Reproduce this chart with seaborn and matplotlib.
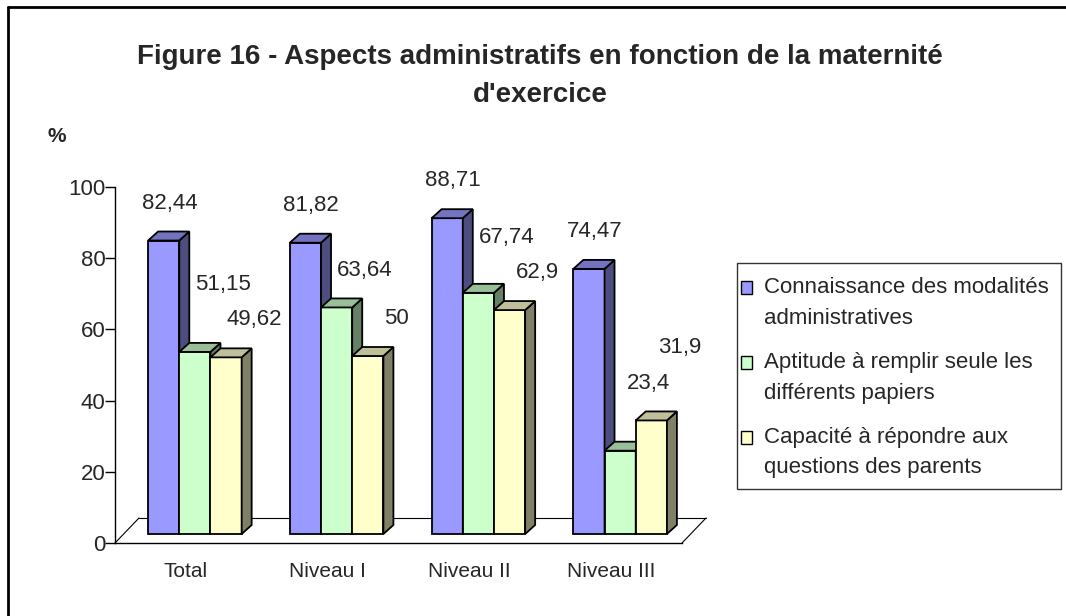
import numpy as np
import pandas as pd
import seaborn as sns
import matplotlib.pyplot as plt
from matplotlib.patches import Polygon, Rectangle
from matplotlib.lines import Line2D
from matplotlib.transforms import ScaledTranslation
from matplotlib.legend_handler import HandlerPatch

# Données
categories = ['Total', 'Niveau I', 'Niveau II', 'Niveau III']
series = ['Connaissance des modalités\nadministratives',
          'Aptitude à remplir seule les\ndifférents papiers',
          'Capacité à répondre aux\nquestions des parents']
connaissance = [82.44, 81.82, 88.71, 74.47]
aptitude = [51.15, 63.64, 67.74, 23.4]
capacite = [49.62, 50, 62.9, 31.9]
yticks = [0, 20, 40, 60, 80, 100]

front_colors = ['#9999FF', '#CCFFCC', '#FFFFCC']
side_colors = ['#4D4D80', '#668066', '#808066']
top_colors = ['#7373BF', '#99BF99', '#BFBF99']
label_dx = [0.04, 0.2, 0.2]   # décalage horizontal des étiquettes (style Excel)

df = pd.DataFrame({
    'cat': categories * 3,
    'serie': [s for s in series for _ in categories],
    'val': connaissance + aptitude + capacite,
})

sns.set_style('white')
plt.rcParams['font.family'] = ['Liberation Sans', 'DejaVu Sans']

W, H = 1066, 616
fig = plt.figure(figsize=(W / 100, H / 100), dpi=100)
ax = fig.add_axes([115 / W, 1 - 543 / H, 567 / W, 356 / H])

sns.barplot(data=df, x='cat', y='val', hue='serie', order=categories, hue_order=series,
            palette=front_colors, saturation=1, width=0.66, edgecolor='black',
            linewidth=1.3, legend=False, ax=ax)
ax.set_xlim(-0.5, 3.5)
ax.set_ylim(0, 100)

# pseudo 3D : décalage des barres et profondeur
px_x = 567 / 4     # pixels par catégorie
px_y = 356 / 100   # pixels par unité
shift = ScaledTranslation(9 / 100, 9 / 100, fig.dpi_scale_trans)
tr = ax.transData + shift
ddx, ddy = 10 / px_x, 9 / px_y

n_s = len(series)
heights = {}
label_pos = {}
for i, cont in enumerate(ax.containers):
    for j, bar in enumerate(cont):
        x, w, h = bar.get_x(), bar.get_width(), bar.get_height()
        heights[(i, j)] = h
        bar.set_transform(tr)
        bar.set_zorder(3 + i)
        side = Polygon([(x + w, 0), (x + w + ddx, ddy), (x + w + ddx, h + ddy), (x + w, h)],
                       closed=True, facecolor=side_colors[i], edgecolor='black',
                       linewidth=1.3, transform=tr, zorder=3 + i + 0.1, clip_on=False)
        top = Polygon([(x, h), (x + ddx, h + ddy), (x + w + ddx, h + ddy), (x + w, h)],
                      closed=True, facecolor=top_colors[i], edgecolor='black',
                      linewidth=1.3, transform=tr, zorder=3 + i + 0.2, clip_on=False)
        ax.add_patch(side)
        ax.add_patch(top)
        label_pos[(i, j)] = x + w / 2 + label_dx[i]

# étiquettes : au-dessus de la barre et de sa voisine de droite,
# la plus haute des deux est remontée si elles se chevauchent
for j in range(len(categories)):
    ys = []
    for i in range(n_s):
        v = heights[(i, j)]
        if i + 1 < n_s:
            v = max(v, heights[(i + 1, j)])
        ys.append(v + 10.5)
    for i in range(n_s - 1):
        if abs(ys[i] - ys[i + 1]) < 7:
            if heights[(i, j)] >= heights[(i + 1, j)]:
                ys[i] = ys[i + 1] + 10
            else:
                ys[i + 1] = ys[i] + 10
    for i in range(n_s):
        ax.text(label_pos[(i, j)], ys[i], f"{heights[(i, j)]:g}".replace('.', ','),
                transform=tr, ha='center', va='center', fontsize=16, zorder=10, clip_on=False)

# sol
fdx, fdy = 24 / px_x, 25 / px_y
floor_kw = dict(color='black', linewidth=0.8, clip_on=False, zorder=1)
ax.plot([-0.5 + fdx, 3.5 + fdx], [fdy, fdy], **floor_kw)
ax.plot([-0.5, -0.5 + fdx], [0, fdy], **floor_kw)
ax.plot([3.5, 3.5 + fdx], [0, fdy], **floor_kw)

sns.despine(ax=ax, top=True, right=True)
for sp in ['left', 'bottom']:
    ax.spines[sp].set_color('black')
    ax.spines[sp].set_linewidth(1.0)

ax.set_yticks(yticks)
ax.set_yticklabels([str(t) for t in yticks], fontsize=16)
ax.set_xticks(range(len(categories)))
ax.set_xticklabels(categories, fontsize=15)
ax.tick_params(axis='x', which='major', length=0, pad=14)
ax.set_xticks([0.5, 1.5, 2.5, 3.5], minor=True)
ax.tick_params(axis='x', which='minor', length=6, color='black', width=1)
ax.tick_params(axis='y', length=7, color='black', width=1, pad=0, left=True)
ax.set_xlabel('')
ax.set_ylabel('')

# titre et unité
fig.text(540 / W, 1 - 76 / H, "Figure 16 - Aspects administratifs en fonction de la maternité\nd'exercice",
         ha='center', va='center', fontsize=20, fontweight='bold', linespacing=1.62)
fig.text(57 / W, 1 - 137 / H, '%', ha='center', va='center', fontsize=15, fontweight='bold')


# légende : carré aligné sur la première ligne du libellé
def top_square(legend, orig_handle, xdescent, ydescent, width, height, fontsize):
    return Rectangle((-xdescent, -ydescent + 0.68 * fontsize), width, height)


handles = [Rectangle((0, 0), 1, 1, facecolor=c, edgecolor='black', linewidth=1) for c in front_colors]
leg = fig.legend(handles, series, loc='upper left', bbox_to_anchor=(741 / W, 1 - 277 / H),
                 fontsize=16, frameon=False, handlelength=0.5, handleheight=0.5,
                 handletextpad=0.55, labelspacing=1.05, borderpad=0, borderaxespad=0,
                 handler_map={Rectangle: HandlerPatch(patch_func=top_square)})
for t in leg.get_texts():
    t.set_linespacing(1.6)
# cadre de la légende
fig.add_artist(Rectangle((737 / W, 1 - 489 / H), 324 / W, 226 / H, fill=False,
                         edgecolor='#333333', linewidth=1.0, transform=fig.transFigure))

# cadre
fig.add_artist(Line2D([8 / W, 8 / W], [0, 1 - 7 / H], color='black', linewidth=2,
                      transform=fig.transFigure))
fig.add_artist(Line2D([8 / W, 1], [1 - 7 / H, 1 - 7 / H], color='black', linewidth=2,
                      transform=fig.transFigure))

fig.savefig('out.png', dpi=100)
